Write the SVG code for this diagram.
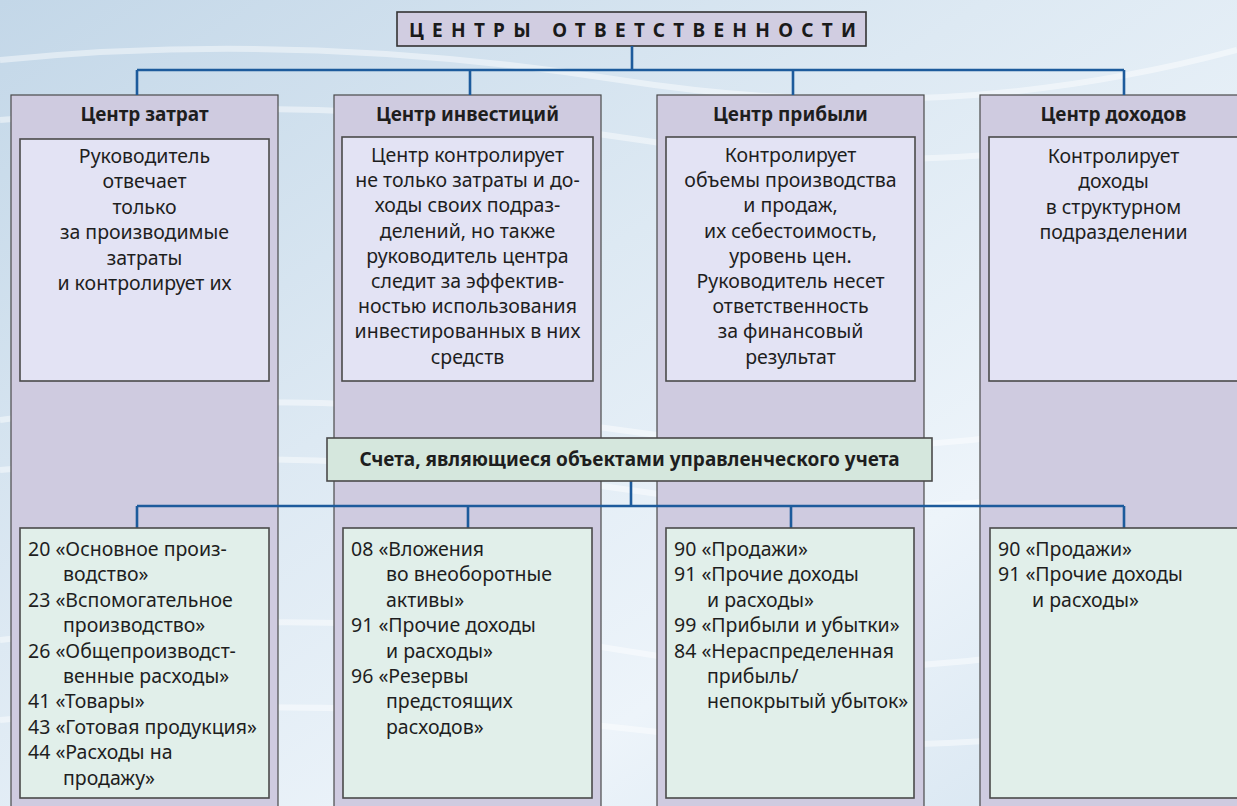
<svg xmlns="http://www.w3.org/2000/svg" width="1237" height="806" viewBox="0 0 1237 806">
<defs>
<linearGradient id="bg" x1="0" y1="0" x2="1" y2="1">
<stop offset="0" stop-color="#c3d7e8"/>
<stop offset="0.4" stop-color="#dde9f3"/>
<stop offset="0.7" stop-color="#edf4fa"/>
<stop offset="1" stop-color="#d2e2ef"/>
</linearGradient>
<style>
.col{fill:#cfcbe0;stroke:#4a4a4a;stroke-width:1.2}
.inner{fill:#e3e3f4;stroke:#4a4a4a;stroke-width:1.6}
.acc{fill:#e1efea;stroke:#4a4a4a;stroke-width:1.6}
.mid{fill:#d5e7dd;stroke:#4a4a4a;stroke-width:1.6}
.title{fill:#d1cde1;stroke:#333;stroke-width:1.6}
.hd{font-family:"Noto Sans","DejaVu Sans",sans-serif;font-weight:bold;font-size:19px;fill:#1e1e1e;text-anchor:middle}
.tx{font-family:"Noto Sans","DejaVu Sans",sans-serif;font-size:19.5px;fill:#1e1e1e;text-anchor:middle}
.ls{font-family:"Noto Sans","DejaVu Sans",sans-serif;font-size:19.5px;fill:#1e1e1e}
.conn{fill:none;stroke:#1d5b9c;stroke-width:2.6}
.wave{fill:none;stroke:#ffffff;stroke-opacity:0.45;stroke-width:6}
</style>
</defs>
<rect x="0" y="0" width="1237" height="806" fill="url(#bg)"/>
<g id="background-waves">
<path class="wave" d="M0 60 Q300 30 620 80 T1237 50"/>
<path class="wave" d="M0 120 Q320 90 640 140 T1237 110"/>
<path class="wave" d="M0 420 Q280 380 620 430 T1237 380"/>
<path class="wave" d="M0 470 Q300 440 630 490 T1237 450"/>
<path class="wave" d="M0 640 Q330 600 620 650 T1237 610"/>
<path class="wave" d="M0 720 Q300 690 640 730 T1237 700"/>
</g>

<g id="title">
<rect class="title" x="397" y="12" width="469" height="34"/>
<text x="409" y="37" font-family="Noto Sans, DejaVu Sans, sans-serif" font-weight="bold" font-size="19" fill="#1a1a1a" textLength="447" lengthAdjust="spacing">ЦЕНТРЫ ОТВЕТСТВЕННОСТИ</text>
</g>

<g id="col-cost">
<rect class="col" x="11" y="95" width="267" height="720"/>
<text class="hd" x="144.5" y="121">Центр затрат</text>
<rect class="inner" x="20" y="139" width="249" height="242"/>
<text class="tx" x="144.5" y="163"><tspan x="144.5">Руководитель</tspan><tspan x="144.5" dy="25.4">отвечает</tspan><tspan x="144.5" dy="25.4">только</tspan><tspan x="144.5" dy="25.4">за производимые</tspan><tspan x="144.5" dy="25.4">затраты</tspan><tspan x="144.5" dy="25.4">и контролирует их</tspan></text>
</g>

<g id="col-invest">
<rect class="col" x="334" y="95" width="267" height="720"/>
<text class="hd" x="467.5" y="121">Центр инвестиций</text>
<rect class="inner" x="342" y="137" width="251" height="244"/>
<text class="tx" x="467.5" y="162"><tspan x="467.5">Центр контролирует</tspan><tspan x="467.5" dy="25.2">не только затраты и до-</tspan><tspan x="467.5" dy="25.2">ходы своих подраз-</tspan><tspan x="467.5" dy="25.2">делений, но также</tspan><tspan x="467.5" dy="25.2">руководитель центра</tspan><tspan x="467.5" dy="25.2">следит за эффектив-</tspan><tspan x="467.5" dy="25.2">ностью использования</tspan><tspan x="467.5" dy="25.2">инвестированных в них</tspan><tspan x="467.5" dy="25.2">средств</tspan></text>
</g>

<g id="col-profit">
<rect class="col" x="657" y="95" width="267" height="720"/>
<text class="hd" x="790.5" y="121">Центр прибыли</text>
<rect class="inner" x="666" y="137" width="249" height="244"/>
<text class="tx" x="790.5" y="162"><tspan x="790.5">Контролирует</tspan><tspan x="790.5" dy="25.2">объемы производства</tspan><tspan x="790.5" dy="25.2">и продаж,</tspan><tspan x="790.5" dy="25.2">их себестоимость,</tspan><tspan x="790.5" dy="25.2">уровень цен.</tspan><tspan x="790.5" dy="25.2">Руководитель несет</tspan><tspan x="790.5" dy="25.2">ответственность</tspan><tspan x="790.5" dy="25.2">за финансовый</tspan><tspan x="790.5" dy="25.2">результат</tspan></text>
</g>

<g id="col-revenue">
<rect class="col" x="980" y="95" width="267" height="720"/>
<text class="hd" x="1113.5" y="121">Центр доходов</text>
<rect class="inner" x="989" y="137" width="260" height="244"/>
<text class="tx" x="1113.5" y="163"><tspan x="1113.5">Контролирует</tspan><tspan x="1113.5" dy="25.4">доходы</tspan><tspan x="1113.5" dy="25.4">в структурном</tspan><tspan x="1113.5" dy="25.4">подразделении</tspan></text>
</g>

<g id="connectors">
<path class="conn" d="M632 46 V70 M137 70 H1124 M137 70 V95 M470 70 V95 M793 70 V95 M1124 70 V95"/>
<path class="conn" d="M631 481 V506 M137 506 H1124 M137 506 V528 M468 506 V528 M791 506 V528 M1124 506 V528"/>
</g>

<g id="accounts-header">
<rect class="mid" x="327" y="438" width="605" height="43"/>
<text class="hd" x="629.5" y="466">Счета, являющиеся объектами управленческого учета</text>
</g>

<g id="acc-cost">
<rect class="acc" x="20" y="528" width="249" height="270"/>
<text class="ls" x="28" y="556"><tspan x="28">20 «Основное произ-</tspan><tspan x="63" dy="25.4">водство»</tspan><tspan x="28" dy="25.4">23 «Вспомогательное</tspan><tspan x="63" dy="25.4">производство»</tspan><tspan x="28" dy="25.4">26 «Общепроизводст-</tspan><tspan x="63" dy="25.4">венные расходы»</tspan><tspan x="28" dy="25.4">41 «Товары»</tspan><tspan x="28" dy="25.4">43 «Готовая продукция»</tspan><tspan x="28" dy="25.4">44 «Расходы на</tspan><tspan x="63" dy="25.4">продажу»</tspan></text>
</g>

<g id="acc-invest">
<rect class="acc" x="343" y="528" width="249" height="270"/>
<text class="ls" x="351" y="556"><tspan x="351">08 «Вложения</tspan><tspan x="386" dy="25.4">во внеоборотные</tspan><tspan x="386" dy="25.4">активы»</tspan><tspan x="351" dy="25.4">91 «Прочие доходы</tspan><tspan x="386" dy="25.4">и расходы»</tspan><tspan x="351" dy="25.4">96 «Резервы</tspan><tspan x="386" dy="25.4">предстоящих</tspan><tspan x="386" dy="25.4">расходов»</tspan></text>
</g>

<g id="acc-profit">
<rect class="acc" x="666" y="528" width="248" height="270"/>
<text class="ls" x="674" y="556"><tspan x="674">90 «Продажи»</tspan><tspan x="674" dy="25.4">91 «Прочие доходы</tspan><tspan x="707" dy="25.4">и расходы»</tspan><tspan x="674" dy="25.4">99 «Прибыли и убытки»</tspan><tspan x="674" dy="25.4">84 «Нераспределенная</tspan><tspan x="707" dy="25.4">прибыль/</tspan><tspan x="707" dy="25.4">непокрытый убыток»</tspan></text>
</g>

<g id="acc-revenue">
<rect class="acc" x="990" y="528" width="260" height="270"/>
<text class="ls" x="998" y="556"><tspan x="998">90 «Продажи»</tspan><tspan x="998" dy="25.4">91 «Прочие доходы</tspan><tspan x="1032" dy="25.4">и расходы»</tspan></text>
</g>
</svg>
